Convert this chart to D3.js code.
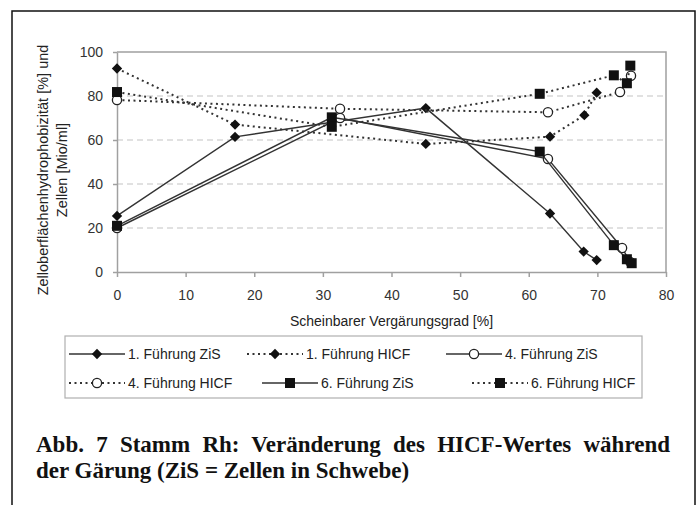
<html>
  <head>
    <meta charset="utf-8" />
    <script src="https://cdnjs.cloudflare.com/ajax/libs/d3/7.6.1/d3.min.js"></script>
    <style>
      body { margin: 0; background: #fff; }
      svg { display: block; }
      .axis text { font-family: "Liberation Sans", Arial, sans-serif; font-size: 14px; fill: #333; }
      .axis path, .axis line { stroke: #a0a0a0; stroke-width: 1.5px; }
    </style>
  </head>
  <body>
    <svg width="699" height="505"></svg>
  </body>

  <script>
    // values: [Vergärungsgrad %, value]
    const f1ZiS = [[0, 25.5], [17.2, 61.4], [45, 74.5], [63.1, 26.6], [68, 9.3], [69.9, 5.4]];
    const f1HICF = [[0, 92.5], [17.2, 67], [45, 58.2], [63.1, 61.5], [68.1, 71.3], [69.9, 81.5]];
    const f4ZiS = [[0, 20], [32.5, 70], [62.8, 51.4], [73.6, 10.9], [74.8, 4.5]];
    const f4HICF = [[0, 78.2], [32.5, 74.2], [62.8, 72.6], [73.3, 81.8], [74.9, 89.2]];
    const f6ZiS = [[0, 21], [31.3, 70.3], [61.6, 54.7], [72.4, 12.2], [74.3, 5.8], [75, 4]];
    const f6HICF = [[0, 81.8], [31.3, 66], [61.6, 81], [72.4, 89.4], [74.3, 85.8], [74.8, 93.8]];

    const seriesNames = ["1. Führung ZiS", "1. Führung HICF", "4. Führung ZiS",
                         "4. Führung HICF", "6. Führung ZiS", "6. Führung HICF"];
    const seriesData = [f1ZiS, f1HICF, f4ZiS, f4HICF, f6ZiS, f6HICF];
    const seriesMarker = ["diamond", "diamond", "circle", "circle", "square", "square"];
    const seriesDotted = [false, true, false, true, false, true];

    const xTicks = [0, 10, 20, 30, 40, 50, 60, 70, 80];
    const yTicks = [0, 20, 40, 60, 80, 100];
    const gridTicks = [20, 40, 60, 80];

    const xTitle = "Scheinbarer Vergärungsgrad [%]";
    const yTitle = ["Zelloberflächenhydrophobizität [%] und", "Zellen [Mio/ml]"];
    const caption = ["Abb. 7 Stamm Rh: Veränderung des HICF-Wertes während",
                     "der Gärung (ZiS = Zellen in Schwebe)"];

    const svg = d3.select("svg");
    const x = d3.scaleLinear().domain([0, 80]).range([117, 666]);
    const y = d3.scaleLinear().domain([0, 100]).range([272, 52]);

    // outer frame (open at the bottom)
    svg.append("path")
      .attr("d", "M12,505V11H695V505")
      .attr("fill", "none").attr("stroke", "#111").attr("stroke-width", 1.5);

    // grid
    svg.append("g").selectAll("line").data(gridTicks).enter().append("line")
      .attr("x1", x(0)).attr("x2", x(80))
      .attr("y1", (d) => y(d)).attr("y2", (d) => y(d))
      .attr("stroke", "#c4c4c4").attr("stroke-width", 1.2)
      .attr("stroke-dasharray", "6,4");

    // plot frame top/right
    svg.append("path")
      .attr("d", `M${x(0)},${y(100)}H${x(80)}V${y(0)}`)
      .attr("fill", "none").attr("stroke", "#a0a0a0").attr("stroke-width", 1.5);

    svg.append("g").attr("class", "axis")
      .attr("transform", `translate(0,${y(0)})`)
      .call(d3.axisBottom(x).tickValues(xTicks).tickSize(5).tickPadding(13).tickSizeOuter(0));
    svg.append("g").attr("class", "axis")
      .attr("transform", `translate(${x(0)},0)`)
      .call(d3.axisLeft(y).tickValues(yTicks).tickSize(4).tickPadding(10).tickSizeOuter(0));

    svg.append("text").text(xTitle)
      .attr("x", (x(0) + x(80)) / 2).attr("y", 326)
      .attr("text-anchor", "middle")
      .style("font-family", "Liberation Sans, Arial, sans-serif").style("font-size", "14px").style("fill", "#222");

    svg.append("g").attr("transform", "translate(0,170) rotate(-90)")
      .selectAll("text").data(yTitle).enter().append("text")
      .text((d) => d)
      .attr("x", 0).attr("y", (d, i) => 48 + i * 19)
      .attr("text-anchor", "middle")
      .style("font-family", "Liberation Sans, Arial, sans-serif").style("font-size", "14.5px").style("fill", "#222");

    function drawMarker(g, type, cx, cy) {
      if (type === "diamond") {
        g.append("path").attr("d", d3.symbol(d3.symbolDiamond2, 68)())
          .attr("transform", `translate(${cx},${cy})`)
          .attr("fill", "#111");
      } else if (type === "square") {
        g.append("rect").attr("x", cx - 5).attr("y", cy - 5)
          .attr("width", 10).attr("height", 10).attr("fill", "#111");
      } else {
        g.append("circle").attr("cx", cx).attr("cy", cy).attr("r", 4.6)
          .attr("fill", "#fff").attr("stroke", "#222").attr("stroke-width", 1.3);
      }
    }

    const line = d3.line().x((d) => x(d[0])).y((d) => y(d[1]));

    seriesData.forEach((data, i) => {
      const g = svg.append("g");
      g.append("path").datum(data).attr("d", line)
        .attr("fill", "none").attr("stroke", "#333")
        .attr("stroke-width", seriesDotted[i] ? 2 : 1.4)
        .attr("stroke-dasharray", seriesDotted[i] ? "2,3.5" : null);
      data.forEach((d) => drawMarker(g, seriesMarker[i], x(d[0]), y(d[1])));
    });

    // legend
    svg.append("rect").attr("x", 65).attr("y", 336).attr("width", 577).attr("height", 62)
      .attr("fill", "#fff").attr("stroke", "#b0b0b0").attr("stroke-width", 1.2);

    const legendPos = [[69, 354], [247, 354], [446, 354], [69, 383], [262, 383], [472, 383]];
    seriesNames.forEach((name, i) => {
      const [lx, ly] = legendPos[i];
      const g = svg.append("g");
      g.append("line").attr("x1", lx).attr("x2", lx + 56).attr("y1", ly).attr("y2", ly)
        .attr("stroke", "#333")
        .attr("stroke-width", seriesDotted[i] ? 2 : 1.4)
        .attr("stroke-dasharray", seriesDotted[i] ? "2,3.5" : null);
      drawMarker(g, seriesMarker[i], lx + 28, ly);
      g.append("text").text(name).attr("x", lx + 59).attr("y", ly + 5)
        .style("font-family", "Liberation Sans, Arial, sans-serif").style("font-size", "14px").style("fill", "#222");
    });

    // caption, first line justified
    const cap = svg.append("g")
      .style("font-family", "Liberation Serif, Times New Roman, serif")
      .style("font-size", "23px").style("font-weight", "bold").style("fill", "#111");
    const c1 = cap.append("text").text(caption[0]).attr("x", 36).attr("y", 452);
    const natural = c1.node().getComputedTextLength();
    const spaces = caption[0].split(" ").length - 1;
    c1.attr("word-spacing", Math.max(0, (670 - 36 - natural) / spaces));
    cap.append("text").text(caption[1]).attr("x", 36).attr("y", 478);
  </script>
</html>
